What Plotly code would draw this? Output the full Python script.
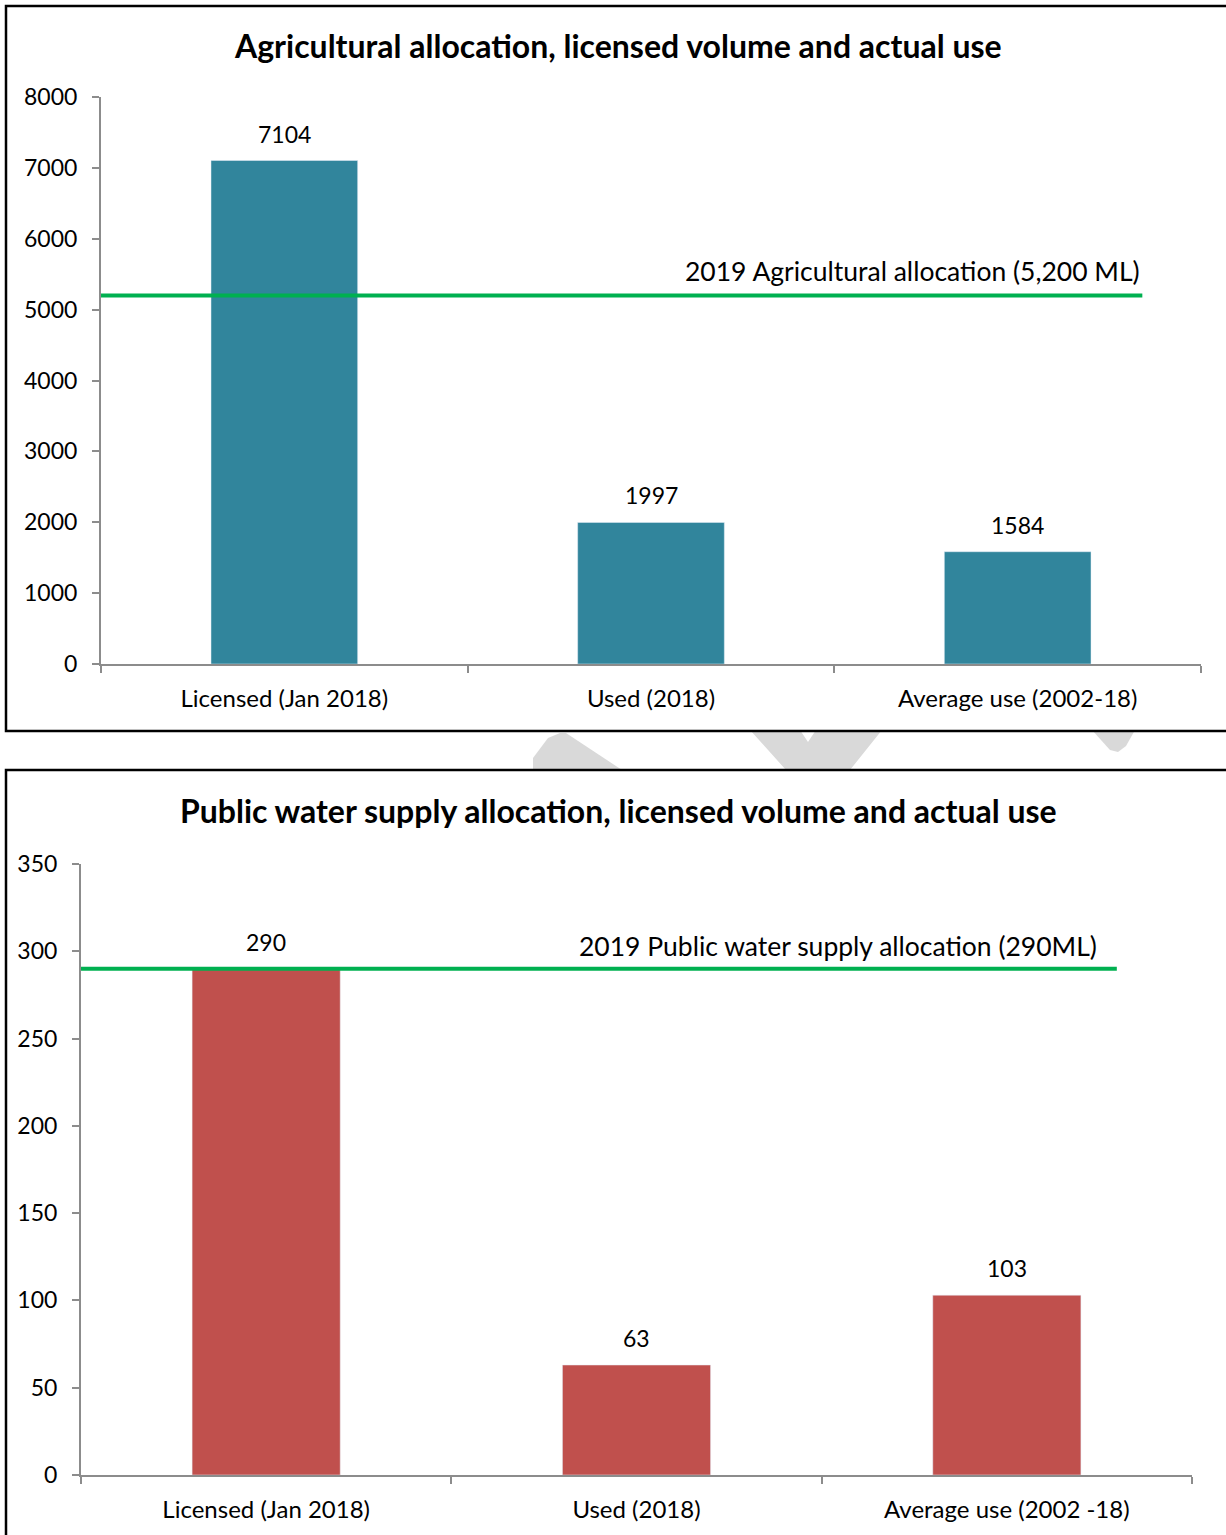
import plotly.graph_objects as go

# ---- data -------------------------------------------------------------
ag_categories = ["Licensed (Jan 2018)", "Used (2018)", "Average use (2002-18)"]
ag_values = [7104, 1997, 1584]
ag_allocation = 5200
ag_allocation_label = "2019 Agricultural allocation (5,200 ML)"
ag_line_x = [-0.5, 2.34]
ag_title = "Agricultural allocation, licensed volume and actual use"
ag_ticks = [0, 1000, 2000, 3000, 4000, 5000, 6000, 7000, 8000]

pws_categories = ["Licensed (Jan 2018)", "Used (2018)", "Average use (2002 -18)"]
pws_values = [290, 63, 103]
pws_allocation = 290
pws_allocation_label = "2019 Public water supply allocation (290ML)"
pws_line_x = [-0.5, 2.297]
pws_title = "Public water supply allocation, licensed volume and actual use"
pws_ticks = [0, 50, 100, 150, 200, 250, 300, 350]

# ---- styling ----------------------------------------------------------
W, H = 1226, 1535
FONT = "Lato, Calibri, Carlito, sans-serif"
TEAL = "#31859C"
RED = "#C0504D"
GREEN = "#00B050"
AXIS_GREY = "#8C8C8C"


def px(x):
    return x / W


def py(y):
    return 1 - y / H


fig = go.Figure()

# bars
fig.add_trace(go.Bar(x=ag_categories, y=ag_values, marker_color=TEAL,
                     width=0.4, xaxis="x", yaxis="y", hoverinfo="x+y"))
fig.add_trace(go.Bar(x=pws_categories, y=pws_values, marker_color=RED,
                     width=0.4, xaxis="x3", yaxis="y3", hoverinfo="x+y"))

# allocation lines on numeric overlay axes sharing the category span
fig.add_trace(go.Scatter(x=ag_line_x, y=[ag_allocation] * 2, mode="lines",
                         line=dict(color=GREEN, width=4),
                         xaxis="x2", yaxis="y", hoverinfo="y"))
fig.add_trace(go.Scatter(x=pws_line_x, y=[pws_allocation] * 2, mode="lines",
                         line=dict(color=GREEN, width=4),
                         xaxis="x4", yaxis="y3", hoverinfo="y"))

cat_axis = dict(
    type="category", tickson="boundaries", ticks="outside", ticklen=7,
    tickcolor=AXIS_GREY, tickwidth=2, showline=True, linecolor=AXIS_GREY,
    linewidth=2, showgrid=False, zeroline=False,
    tickfont=dict(family=FONT, size=24, color="#000000"),
    ticklabelstandoff=12, fixedrange=True,
)
val_axis = dict(
    ticks="outside", ticklen=7, tickcolor=AXIS_GREY, tickwidth=2,
    showline=True, linecolor=AXIS_GREY, linewidth=2, showgrid=False,
    zeroline=False, tickfont=dict(family=FONT, size=23, color="#000000"),
    ticklabelstandoff=10, fixedrange=True,
)
overlay_axis = dict(range=[-0.5, 2.5], visible=False, fixedrange=True)

fig.update_layout(
    xaxis=dict(cat_axis, domain=[px(101), px(1201)], anchor="y",
               range=[-0.5, 2.5]),
    yaxis=dict(val_axis, domain=[py(664), py(97)], anchor="x",
               range=[0, 8000], tickvals=ag_ticks),
    xaxis2=dict(overlay_axis, overlaying="x", anchor="y"),
    xaxis3=dict(cat_axis, domain=[px(81), px(1192)], anchor="y3",
                range=[-0.5, 2.5]),
    yaxis3=dict(val_axis, domain=[py(1475), py(864)], anchor="x3",
                range=[0, 350], tickvals=pws_ticks),
    xaxis4=dict(overlay_axis, overlaying="x3", anchor="y3"),
)

annotations = []

# value labels above each bar
for cats, vals, xr, yr in [(ag_categories, ag_values, "x", "y"),
                           (pws_categories, pws_values, "x3", "y3")]:
    for c, v in zip(cats, vals):
        annotations.append(dict(
            x=c, y=v, xref=xr, yref=yr, text=str(v), showarrow=False,
            xanchor="center", yanchor="bottom", yshift=11,
            font=dict(family=FONT, size=23, color="#000000")))

# allocation line captions, right-aligned near the line end
annotations.append(dict(
    x=ag_line_x[1], y=ag_allocation, xref="x2", yref="y",
    text=ag_allocation_label, showarrow=False, xanchor="right",
    yanchor="bottom", yshift=6, font=dict(family=FONT, size=26.5, color="#000000")))
annotations.append(dict(
    x=pws_line_x[1], y=pws_allocation, xref="x4", yref="y3",
    text=pws_allocation_label, showarrow=False, xanchor="right",
    yanchor="bottom", xshift=-18, yshift=5,
    font=dict(family=FONT, size=26.5, color="#000000")))

# panel titles
annotations.append(dict(
    x=px(618), y=py(46), xref="paper", yref="paper", text="<b>%s</b>" % ag_title,
    showarrow=False, xanchor="center", yanchor="middle",
    font=dict(family=FONT, size=32, color="#000000")))
annotations.append(dict(
    x=px(618), y=py(810), xref="paper", yref="paper", text="<b>%s</b>" % pws_title,
    showarrow=False, xanchor="center", yanchor="middle",
    font=dict(family=FONT, size=32, color="#000000")))

# light grey watermark fragments showing through the gap between panels
WM = "#D9D9D9"


def path(points):
    return "M " + " L ".join("%f,%f" % (px(x), py(y)) for x, y in points) + " Z"


shapes = [
    dict(type="path", xref="paper", yref="paper", layer="below", line_width=0,
         fillcolor=WM,
         path=path([(533, 770), (533, 758), (548, 738), (560, 733), (566, 733),
                    (622, 770)])),
    dict(type="path", xref="paper", yref="paper", layer="below", line_width=0,
         fillcolor=WM,
         path=path([(750, 730), (800, 730), (808, 742), (816, 730), (882, 730),
                    (850, 770), (786, 770)])),
    dict(type="path", xref="paper", yref="paper", layer="below", line_width=0,
         fillcolor=WM,
         path=path([(1092, 730), (1135, 730), (1126, 746), (1118, 752),
                    (1110, 750)])),
    # panel frames
    dict(type="rect", xref="paper", yref="paper", layer="below",
         x0=px(6), x1=1.02, y0=py(731), y1=py(6),
         line=dict(color="#000000", width=2.5), fillcolor="rgba(0,0,0,0)"),
    dict(type="rect", xref="paper", yref="paper", layer="below",
         x0=px(6), x1=1.02, y0=-0.02, y1=py(770),
         line=dict(color="#000000", width=2.5), fillcolor="rgba(0,0,0,0)"),
]

fig.update_layout(
    width=W, height=H,
    margin=dict(l=0, r=0, t=0, b=0, pad=0, autoexpand=False),
    paper_bgcolor="#FFFFFF", plot_bgcolor="rgba(0,0,0,0)",
    showlegend=False, annotations=annotations, shapes=shapes,
    font=dict(family=FONT, color="#000000"),
)

fig.write_html("out.html", config={"displayModeBar": False})
